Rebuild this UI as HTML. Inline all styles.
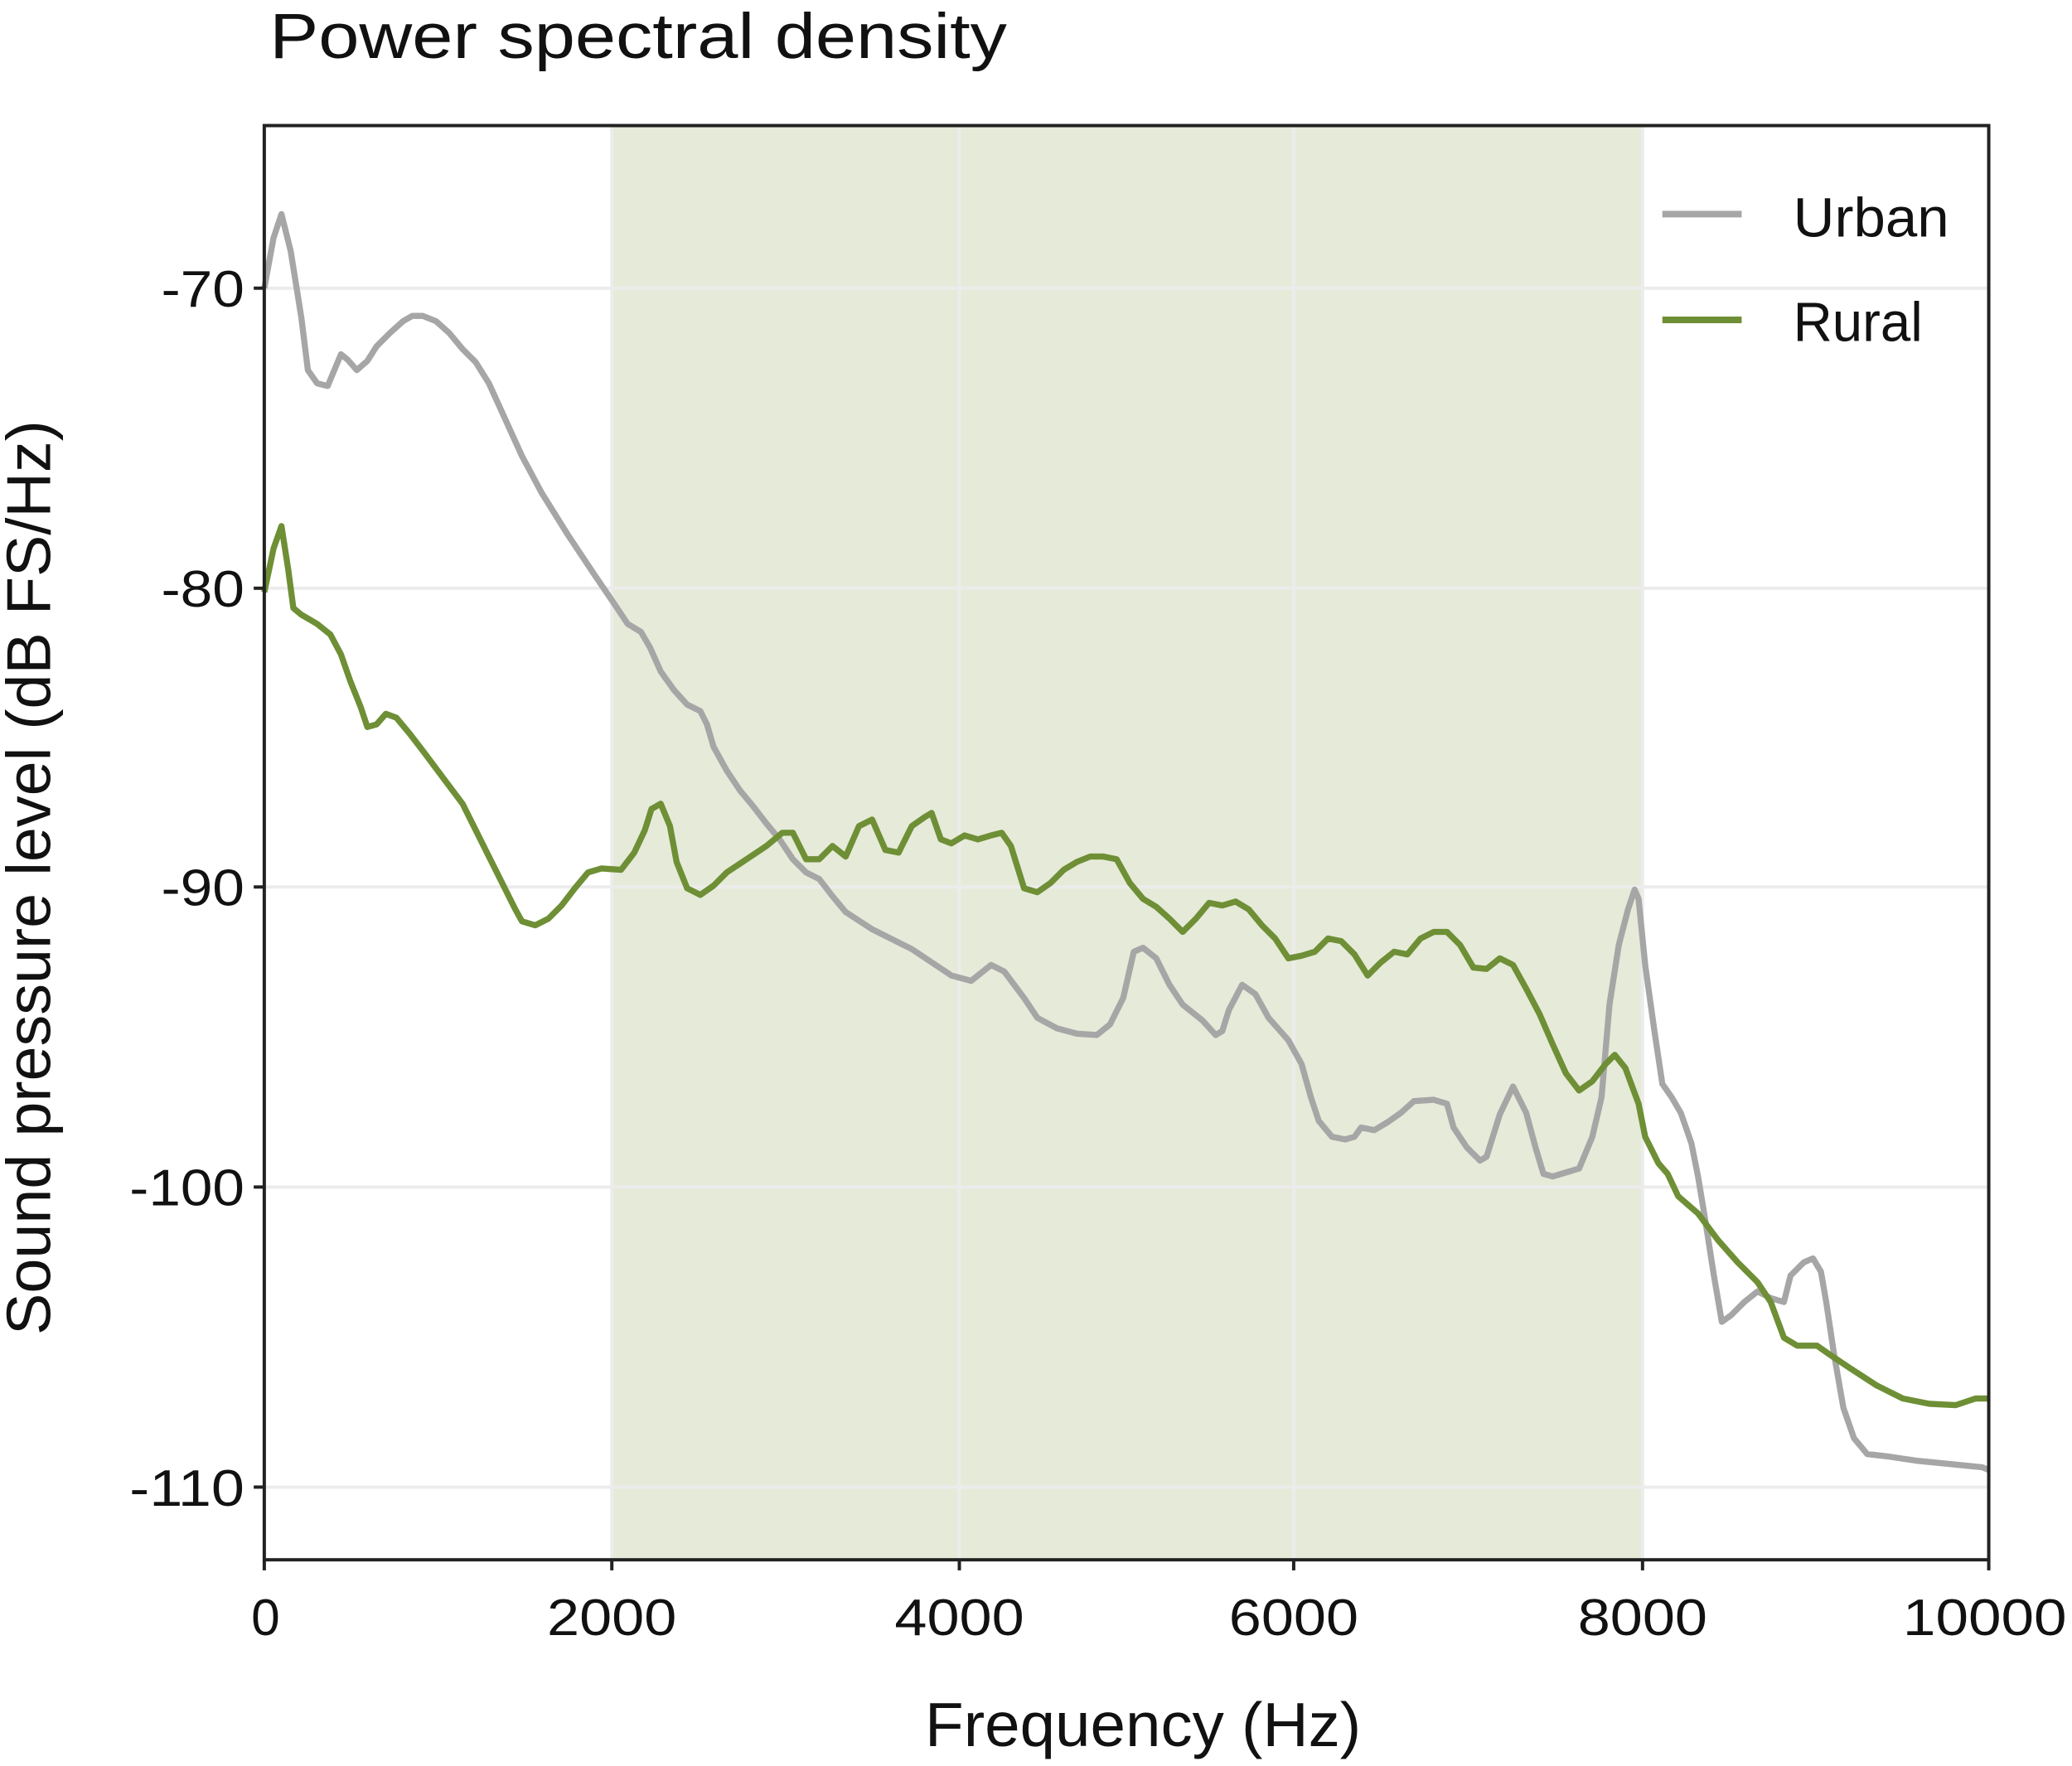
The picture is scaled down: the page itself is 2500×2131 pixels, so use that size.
<!DOCTYPE html>
<html><head><meta charset="utf-8"><style>
html,body{margin:0;padding:0;background:#fff;}
svg{display:block;}
text{font-family:"Liberation Sans",sans-serif;fill:#111;}
</style></head><body>
<svg width="2500" height="2131" viewBox="0 0 1568 1336" preserveAspectRatio="none" xmlns="http://www.w3.org/2000/svg">
<rect x="463" y="95" width="780" height="1085" fill="#e6ead9"/>
<g stroke="#ececec" stroke-width="2.5">
<line x1="200" x2="1505" y1="218" y2="218"/>
<line x1="200" x2="1505" y1="445" y2="445"/>
<line x1="200" x2="1505" y1="671" y2="671"/>
<line x1="200" x2="1505" y1="898" y2="898"/>
<line x1="200" x2="1505" y1="1125" y2="1125"/>
<line x1="463" x2="463" y1="95" y2="1180"/>
<line x1="726" x2="726" y1="95" y2="1180"/>
<line x1="979" x2="979" y1="95" y2="1180"/>
<line x1="1243" x2="1243" y1="95" y2="1180"/>
</g>
<polyline fill="none" stroke="#a6a6a6" stroke-width="4.6" stroke-linejoin="round" points="200,218 207,180 213,162 220,190 228,240 233,280 240,290 248,292 253,280 258,268 263,272 270,280 278,273 285,262 295,252 305,243 312,239 320,239 330,243 340,252 350,264 360,274 370,290 380,312 395,345 410,373 430,405 450,435 465,457 475,472 485,478 492,490 500,508 510,522 520,533 530,538 535,548 540,565 550,583 560,598 570,610 580,623 590,635 600,650 610,660 620,665 630,678 640,690 660,703 690,718 720,738 735,742 750,730 760,735 775,755 785,770 800,778 815,782 830,783 840,775 850,755 858,720 865,717 875,725 885,745 895,760 910,772 920,783 925,780 930,764 940,745 950,752 960,770 975,787 985,805 992,830 998,848 1008,860 1018,862 1025,860 1030,853 1040,855 1050,849 1060,842 1070,833 1085,832 1095,835 1100,853 1110,868 1120,878 1125,875 1135,843 1145,822 1155,842 1162,868 1168,888 1175,890 1185,887 1195,884 1205,860 1212,830 1218,760 1225,715 1232,688 1237,673 1240,680 1245,730 1252,780 1258,820 1265,830 1272,842 1280,865 1285,890 1290,920 1297,965 1303,1000 1310,995 1320,985 1330,977 1340,982 1350,985 1355,965 1365,955 1372,952 1378,962 1382,985 1388,1025 1395,1065 1403,1088 1413,1100 1430,1102 1450,1105 1480,1108 1500,1110 1505,1112"/>
<polyline fill="none" stroke="#6e8f35" stroke-width="4.6" stroke-linejoin="round" points="200,448 207,415 213,398 218,430 222,460 228,465 240,472 250,480 258,495 265,515 273,535 278,550 285,548 292,540 300,543 310,555 320,568 335,588 350,608 360,628 370,648 380,668 390,688 395,697 405,700 415,695 425,685 435,672 445,660 455,657 470,658 480,645 488,628 493,612 500,608 507,625 512,652 520,672 530,677 540,670 550,660 565,650 580,640 592,630 600,630 610,650 620,650 630,640 640,648 650,625 660,620 670,643 680,645 690,625 700,618 705,615 712,635 720,638 730,632 740,635 750,632 758,630 765,640 775,672 785,675 795,668 805,658 815,652 825,648 835,648 845,650 855,668 865,680 875,686 885,695 895,705 905,695 915,683 925,685 935,682 945,688 955,700 965,710 975,725 985,723 995,720 1005,710 1015,712 1025,722 1035,738 1045,728 1055,720 1065,722 1075,710 1085,705 1095,705 1105,715 1115,732 1125,733 1135,725 1145,730 1155,748 1165,767 1175,790 1185,812 1195,825 1205,818 1215,805 1222,798 1230,808 1240,835 1245,860 1255,880 1262,888 1270,905 1285,918 1300,938 1315,955 1330,970 1340,985 1350,1012 1360,1018 1375,1018 1385,1025 1400,1035 1420,1048 1440,1058 1460,1062 1480,1063 1495,1058 1505,1058"/>
<rect x="200" y="95" width="1305" height="1085" fill="none" stroke="#222" stroke-width="2.5"/>
<g stroke="#222" stroke-width="2.5">
<line x1="192" x2="200" y1="218" y2="218"/><line x1="192" x2="200" y1="445" y2="445"/><line x1="192" x2="200" y1="671" y2="671"/><line x1="192" x2="200" y1="898" y2="898"/><line x1="192" x2="200" y1="1125" y2="1125"/>
<line x1="200" x2="200" y1="1180" y2="1188"/><line x1="463" x2="463" y1="1180" y2="1188"/><line x1="726" x2="726" y1="1180" y2="1188"/><line x1="979" x2="979" y1="1180" y2="1188"/><line x1="1243" x2="1243" y1="1180" y2="1188"/><line x1="1505" x2="1505" y1="1180" y2="1188"/>
</g>
<g font-size="39" text-anchor="end">
<text x="185" y="232" textLength="63" lengthAdjust="spacingAndGlyphs">-70</text><text x="185" y="459" textLength="63" lengthAdjust="spacingAndGlyphs">-80</text><text x="185" y="685" textLength="63" lengthAdjust="spacingAndGlyphs">-90</text><text x="185" y="912" textLength="87" lengthAdjust="spacingAndGlyphs">-100</text><text x="185" y="1139" textLength="87" lengthAdjust="spacingAndGlyphs">-110</text>
</g>
<g font-size="39" text-anchor="middle">
<text x="201" y="1237">0</text><text x="463" y="1237" textLength="98" lengthAdjust="spacingAndGlyphs">2000</text><text x="726" y="1237" textLength="98" lengthAdjust="spacingAndGlyphs">4000</text><text x="979" y="1237" textLength="98" lengthAdjust="spacingAndGlyphs">6000</text><text x="1243" y="1237" textLength="98" lengthAdjust="spacingAndGlyphs">8000</text><text x="1502" y="1237" textLength="124" lengthAdjust="spacingAndGlyphs">10000</text>
</g>
<text x="865" y="1321" font-size="47" text-anchor="middle" textLength="330" lengthAdjust="spacingAndGlyphs">Frequency (Hz)</text>
<text transform="translate(38,664) rotate(-90)" font-size="47" text-anchor="middle" textLength="692" lengthAdjust="spacingAndGlyphs">Sound pressure level (dB FS/Hz)</text>
<text x="204" y="44" font-size="48" textLength="558" lengthAdjust="spacingAndGlyphs">Power spectral density</text>
<line x1="1258" x2="1318" y1="162" y2="162" stroke="#a6a6a6" stroke-width="5"/>
<line x1="1258" x2="1318" y1="242" y2="242" stroke="#6e8f35" stroke-width="5"/>
<text x="1357" y="179" font-size="42" textLength="118" lengthAdjust="spacingAndGlyphs">Urban</text>
<text x="1357" y="258" font-size="42" textLength="98" lengthAdjust="spacingAndGlyphs">Rural</text>
</svg>
</body></html>
